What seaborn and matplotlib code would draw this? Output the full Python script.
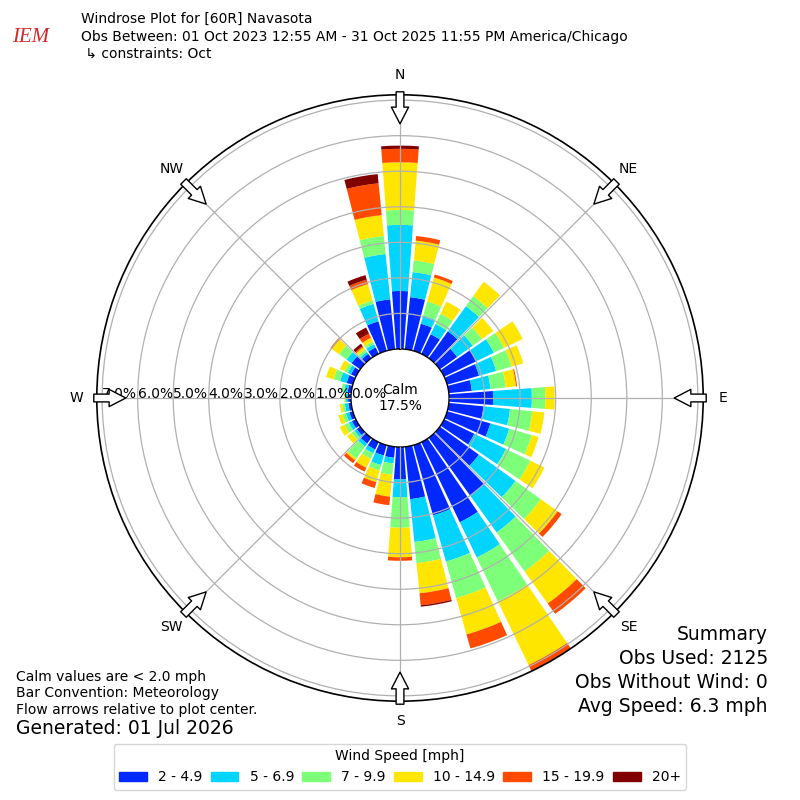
import numpy as np
import pandas as pd
import matplotlib
matplotlib.use("Agg")
import matplotlib.pyplot as plt
from matplotlib.patches import Patch
import seaborn as sns

# direction bins (degrees, meteorological) and speed classes
directions = list(range(0, 360, 10))
speed_labels = ["2 - 4.9", "5 - 6.9", "7 - 9.9", "10 - 14.9", "15 - 19.9", "20+"]
speed_colors = ["#0028ff", "#00d4ff", "#7dff7a", "#ffe600", "#ff4a00", "#800000"]

# percent of observations per direction bin, one list per speed class
pct_2_5 = [1.63, 1.47, 0.79, 0.61, 0.93, 0.60, 1.00, 0.93, 0.65, 1.24, 0.98, 1.26,
           0.94, 1.35, 2.00, 2.50, 2.05, 1.48, 0.91, 0.31, 0.30, 0.23, 0.20, 0.12,
           0.12, 0.10, 0.08, 0.08, 0.10, 0.18, 0.15, 0.30, 0.15, 0.20, 0.86, 1.41]
pct_5_7 = [1.86, 0.71, 0.24, 0.32, 0.87, 0.54, 0.55, 0.50, 0.53, 1.09, 0.75, 0.55,
           0.99, 1.27, 1.28, 1.10, 1.35, 1.21, 0.50, 0.16, 0.28, 0.12, 0.10, 0.08,
           0.10, 0.10, 0.10, 0.07, 0.10, 0.19, 0.10, 0.17, 0.07, 0.10, 0.51, 1.28]
pct_7_10 = [0.42, 0.33, 0.41, 0.32, 0.35, 0.32, 0.32, 0.45, 0.43, 0.38, 0.63, 0.66,
            0.76, 0.88, 1.35, 1.37, 1.07, 0.60, 0.86, 0.32, 0.16, 0.17, 0.42, 0.10,
            0.13, 0.10, 0.07, 0.03, 0.08, 0.19, 0.10, 0.26, 0.08, 0.08, 0.10, 0.51]
pct_10_15 = [1.34, 0.56, 0.70, 0.38, 0.50, 0.39, 0.58, 0.34, 0.29, 0.26, 0.34, 0.20,
             0.44, 0.58, 1.11, 1.99, 1.06, 0.85, 0.83, 0.62, 0.34, 0.28, 0.06, 0.15,
             0.15, 0.12, 0.07, 0.02, 0.00, 0.22, 0.15, 0.25, 0.08, 0.12, 0.48, 0.59]
pct_15_20 = [0.38, 0.13, 0.09, 0.00, 0.00, 0.00, 0.00, 0.00, 0.03, 0.00, 0.00, 0.00,
             0.00, 0.14, 0.36, 0.19, 0.41, 0.34, 0.10, 0.24, 0.17, 0.12, 0.10, 0.00,
             0.00, 0.00, 0.00, 0.00, 0.00, 0.00, 0.00, 0.05, 0.04, 0.13, 0.13, 0.90]
pct_20_up = [0.09, 0.00, 0.00, 0.00, 0.00, 0.00, 0.00, 0.00, 0.00, 0.00, 0.00, 0.00,
             0.00, 0.00, 0.00, 0.00, 0.00, 0.04, 0.00, 0.00, 0.00, 0.00, 0.00, 0.00,
             0.00, 0.00, 0.00, 0.00, 0.00, 0.00, 0.00, 0.00, 0.08, 0.19, 0.13, 0.26]

calm_pct = 17.5
radial_ticks = [0, 1, 2, 3, 4, 5, 6, 7]
compass_labels = ["N", "NE", "E", "SE", "S", "SW", "W", "NW"]

series = [pct_2_5, pct_5_7, pct_7_10, pct_10_15, pct_15_20, pct_20_up]
rows = []
for label, values in zip(speed_labels, series):
    for d, v in zip(directions, values):
        rows.append({"theta": np.radians(d), "pct": v, "speed": label})
df = pd.DataFrame(rows)

totals = np.sum(np.array(series), axis=0)
rmax = totals.max()
rorigin = -0.193 * rmax
R_PX = 303.0


def px_to_r(px):
    return rorigin + px / R_PX * (rmax - rorigin)


sns.set_style("white")
plt.rcParams["font.family"] = ["DejaVu Sans"]
plt.rcParams["text.color"] = "black"

fig = plt.figure(figsize=(8, 8), dpi=100)
ax = fig.add_axes([0.121, 0.1235, 0.758, 0.758], projection="polar")
ax.set_theta_zero_location("N")
ax.set_theta_direction(-1)

edges = [float(e) for e in np.radians(np.arange(-5, 360, 10))]
sns.histplot(data=df, x="theta", weights="pct", hue="speed",
             hue_order=speed_labels[::-1],
             palette=dict(zip(speed_labels, speed_colors)),
             multiple="stack", bins=edges, shrink=0.86, linewidth=0,
             alpha=1, legend=False, ax=ax)

ax.set_ylim(0, rmax)
ax.set_rorigin(rorigin)
ax.set_xlabel("")
ax.set_ylabel("")
ax.set_xticks(np.radians(np.arange(0, 360, 45)))
ax.set_xticklabels([])
ax.set_yticks(radial_ticks[1:])
ax.set_yticklabels([])
ax.set_axisbelow(False)
ax.grid(True, color="#b0b0b0", lw=0.9)
ax.spines["polar"].set_color("black")
ax.spines["polar"].set_linewidth(1.2)
ax.spines["inner"].set_color("black")
ax.spines["inner"].set_linewidth(1.0)

# radial labels along the west axis
for t in radial_ticks:
    ax.text(np.radians(270), t, f"{t:.1f}%", ha="left", va="baseline",
            fontsize=10, color="black")

# compass labels and inward flow arrows
for i, lab in enumerate(compass_labels):
    th = np.radians(i * 45)
    ax.text(th, px_to_r(323), lab, ha="center", va="center", fontsize=10,
            color="black")
    ax.annotate("", xy=(th, px_to_r(274)), xytext=(th, px_to_r(306)),
                arrowprops=dict(arrowstyle="simple,head_length=0.6,head_width=0.62,tail_width=0.28",
                                fc="white", ec="black", lw=1, shrinkA=0, shrinkB=0,
                                mutation_scale=20),
                annotation_clip=False)

ax.text(0.5, 0.5, f"Calm\n{calm_pct:.1f}%", transform=ax.transAxes,
        ha="center", va="center", fontsize=10, color="black")

# header
fig.text(0.038, 0.953, "IEM", color="#d62728", fontsize=15, style="italic",
         family="Liberation Serif", ha="center", va="center")
fig.text(0.101, 0.976, "Windrose Plot for [60R] Navasota", fontsize=10, va="center")
fig.text(0.101, 0.954, "Obs Between: 01 Oct 2023 12:55 AM - 31 Oct 2025 11:55 PM America/Chicago",
         fontsize=10, va="center")
fig.text(0.101, 0.9325, " \u21b3 constraints: Oct", fontsize=10, va="center")

# footer notes
fig.text(0.02, 0.154, "Calm values are < 2.0 mph", fontsize=10, va="center")
fig.text(0.02, 0.134, "Bar Convention: Meteorology", fontsize=10, va="center")
fig.text(0.02, 0.1125, "Flow arrows relative to plot center.", fontsize=10, va="center")
fig.text(0.02, 0.089, "Generated: 01 Jul 2026", fontsize=13.5, va="center")

summary = ["Summary", "Obs Used: 2125", "Obs Without Wind: 0", "Avg Speed: 6.3 mph"]
for k, s in enumerate(summary):
    fig.text(0.96, 1 - (635 + 23.7 * k) / 800, s, fontsize=13.5, ha="right", va="center")

handles = [Patch(color=c) for c in speed_colors]
fig.legend(handles, speed_labels, loc="lower center", bbox_to_anchor=(0.5, 0.004),
           ncol=6, title="Wind Speed [mph]", fontsize=10, title_fontsize=10,
           columnspacing=0.6)

fig.savefig("out.png", dpi=100)
plt.close(fig)
